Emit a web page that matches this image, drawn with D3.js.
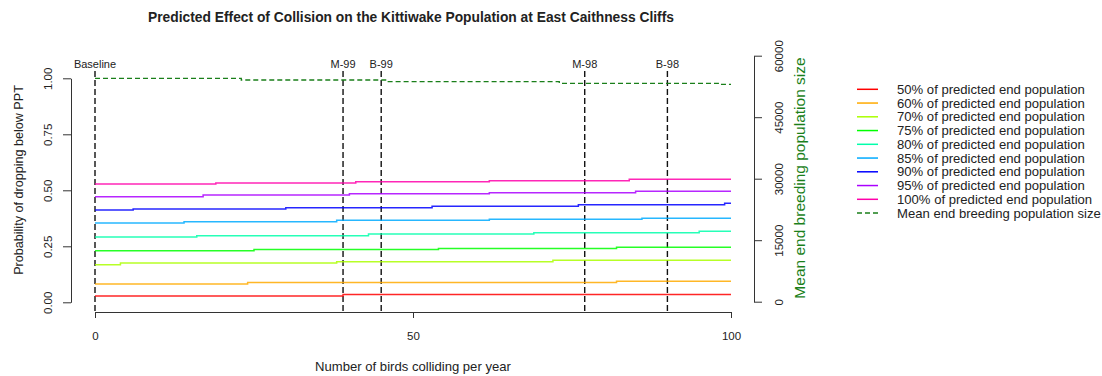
<!DOCTYPE html>
<html>
<head>
<meta charset="utf-8">
<script src="https://cdn.jsdelivr.net/npm/d3@7"></script>
<style>
  body { margin: 0; background: #fff; }
  svg text { font-family: "Liberation Sans", Arial, sans-serif; fill: #222; }
  .narrow { font-family: "Liberation Sans Narrow", "Arial Narrow", "Liberation Sans", sans-serif !important; }
</style>
</head>
<body>
<div id="chart"></div>
<script>

// step series: [birds colliding per year, probability] - value holds until next step
const prob50  = [[0, 0.028], [39, 0.035]];
const prob60  = [[0, 0.082], [24, 0.088], [82, 0.094]];
const prob70  = [[0, 0.168], [4, 0.175], [38, 0.181], [72, 0.188]];
const prob75  = [[0, 0.230], [25, 0.236], [54, 0.240], [82, 0.246]];
const prob80  = [[0, 0.291], [16, 0.297], [43, 0.305], [69, 0.311], [95, 0.317]];
const prob85  = [[0, 0.354], [14, 0.360], [38, 0.366], [62, 0.371], [86, 0.375]];
const prob90  = [[0, 0.412], [6, 0.417], [30, 0.422], [53, 0.429], [76, 0.436], [99, 0.442]];
const prob95  = [[0, 0.471], [17, 0.479], [40, 0.485], [62, 0.489], [85, 0.496]];
const prob100 = [[0, 0.528], [19, 0.533], [41, 0.538], [62, 0.543], [84, 0.549]];

// mean end breeding population (right axis)
const meanPop = [[0, 54490], [23, 54070], [46, 53660], [73, 53270], [98, 53020]];

const seriesNames = ["50%", "60%", "70%", "75%", "80%", "85%", "90%", "95%", "100%"];
const seriesColours = ["#FF0000", "#FFAA00", "#AAFF00", "#00FF00", "#00FFAA", "#00AAFF", "#0000FF", "#AA00FF", "#FF00AA"];
const allSeries = [prob50, prob60, prob70, prob75, prob80, prob85, prob90, prob95, prob100];

// scenario markers
const markerNames = ["Baseline", "M-99", "B-99", "M-98", "B-98"];
const markerX = [0, 39, 45, 77, 90];

const xTicks = [0, 50, 100];
const yLeftTicks = [0, 0.25, 0.5, 0.75, 1];
const yRightTicks = [0, 15000, 30000, 45000, 60000];

const width = 1102, height = 376;
const popGreen = "#1a7f1a";

const svg = d3.select("#chart").append("svg")
  .attr("width", width)
  .attr("height", height);

const x = d3.scaleLinear().domain([0, 100]).range([95, 731]);
const yL = d3.scaleLinear().domain([0, 1]).range([302.3, 78.3]);
const yR = d3.scaleLinear().domain([0, 60000]).range([301.7, 55.7]);

// title
svg.append("text")
  .attr("class", "narrow")
  .attr("x", 411).attr("y", 22)
  .attr("text-anchor", "middle")
  .style("font-weight", "bold")
  .style("font-size", "13.8px")
  .text("Predicted Effect of Collision on the Kittiwake Population at East Caithness Cliffs");

// step line generator (extend last value to 100)
function stepPoints(s) {
  const pts = s.slice();
  pts.push([100, s[s.length - 1][1]]);
  return pts;
}

const lineL = d3.line()
  .x(function(d) { return x(d[0]); })
  .y(function(d) { return yL(d[1]); })
  .curve(d3.curveStepAfter);

const lineR = d3.line()
  .x(function(d) { return x(d[0]); })
  .y(function(d) { return yR(d[1]); })
  .curve(d3.curveStepAfter);

// vertical marker lines
svg.selectAll(".marker")
  .data(markerX)
  .enter()
  .append("line")
  .attr("class", "marker")
  .attr("x1", function(d) { return x(d); })
  .attr("x2", function(d) { return x(d); })
  .attr("y1", 71)
  .attr("y2", 312)
  .attr("stroke", "#111")
  .attr("stroke-width", 1.4)
  .attr("stroke-dasharray", "6,3");

svg.selectAll(".marker-label")
  .data(markerX)
  .enter()
  .append("text")
  .attr("class", "narrow")
  .attr("x", function(d) { return x(d); })
  .attr("y", 68)
  .attr("text-anchor", "middle")
  .style("font-size", "11px")
  .text(function(d, i) { return markerNames[i]; });

// probability series
allSeries.forEach(function(s, i) {
  svg.append("path")
    .attr("d", lineL(stepPoints(s)))
    .attr("fill", "none")
    .attr("stroke", seriesColours[i])
    .attr("stroke-width", 1.5)
    .attr("stroke-opacity", 0.85);
});

// population series
svg.append("path")
  .attr("d", lineR(stepPoints(meanPop)))
  .attr("fill", "none")
  .attr("stroke", popGreen)
  .attr("stroke-width", 1.3)
  .attr("stroke-dasharray", "5,3");

// x axis
const gx = svg.append("g")
  .attr("transform", "translate(0,312)")
  .call(d3.axisBottom(x).tickValues(xTicks).tickSize(6).tickSizeOuter(0).tickFormat(d3.format("d")));
gx.selectAll("text").attr("y", 20).attr("dy", "0.71em").style("font-size", "11.5px");

// left axis
const gyl = svg.append("g")
  .attr("transform", "translate(71,0)")
  .call(d3.axisLeft(yL).tickValues(yLeftTicks).tickSize(8).tickSizeOuter(0).tickFormat(d3.format(".2f")));
gyl.selectAll("text")
  .attr("x", 0).attr("dy", null)
  .attr("text-anchor", "middle")
  .attr("transform", "translate(-19,0) rotate(-90)")
  .style("font-size", "11.5px");

// right axis
const gyr = svg.append("g")
  .attr("transform", "translate(754,0)")
  .call(d3.axisRight(yR).tickValues(yRightTicks).tickSize(8).tickSizeOuter(0).tickFormat(d3.format("d")));
gyr.selectAll("text")
  .attr("x", 0).attr("dy", null)
  .attr("text-anchor", "middle")
  .attr("transform", "translate(29,0) rotate(-90)")
  .style("font-size", "11.5px");

[gx, gyl, gyr].forEach(function(g) {
  g.selectAll("path, line").attr("stroke", "#333");
  g.selectAll("text").attr("fill", "#222").style("font-family", "'Liberation Sans Narrow', 'Liberation Sans', sans-serif");
});

// axis titles
svg.append("text")
  .attr("class", "narrow")
  .attr("x", 413).attr("y", 371)
  .attr("text-anchor", "middle")
  .style("font-size", "13.1px")
  .text("Number of birds colliding per year");

svg.append("text")
  .attr("class", "narrow")
  .attr("transform", "translate(23,180) rotate(-90)")
  .attr("text-anchor", "middle")
  .style("font-size", "12.6px")
  .text("Probability of dropping below PPT");

svg.append("text")
  .attr("transform", "translate(805,178) rotate(-90)")
  .attr("text-anchor", "middle")
  .style("font-size", "15.5px")
  .style("fill", popGreen)
  .text("Mean end breeding population size");

// legend
const legendLabels = seriesNames.map(function(n) { return n + " of predicted end population"; })
  .concat(["Mean end breeding population size"]);
const legendColours = seriesColours.concat([popGreen]);

const legend = svg.append("g").attr("transform", "translate(857,89.3)");
legendLabels.forEach(function(lab, i) {
  const row = legend.append("g").attr("transform", "translate(0," + (i * 13.75) + ")");
  row.append("line")
    .attr("x1", 0).attr("x2", 21)
    .attr("stroke", legendColours[i])
    .attr("stroke-width", 1.5)
    .attr("stroke-dasharray", i == 9 ? "5,3" : null);
  row.append("text")
    .attr("x", 40).attr("dy", "0.35em")
    .style("font-size", "13.1px")
    .text(lab);
});

</script>
</body>
</html>
